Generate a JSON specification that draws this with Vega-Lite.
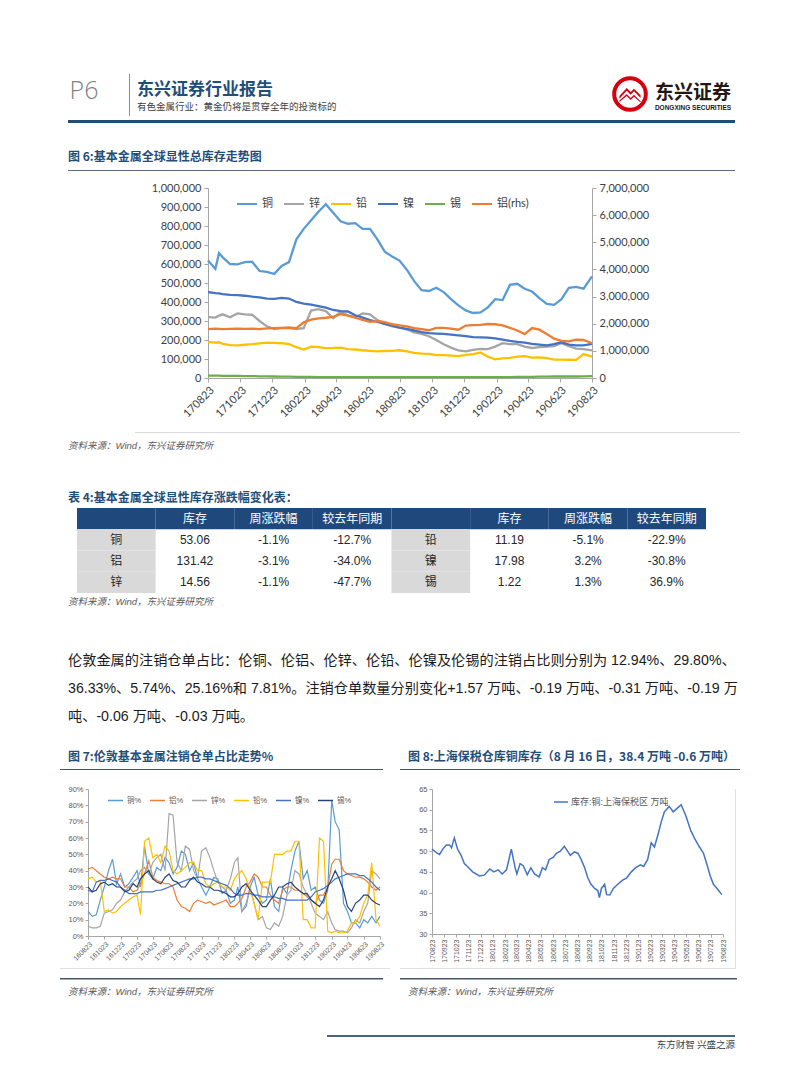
{
"$schema": "https://vega.github.io/schema/vega-lite/v6.json",
"padding": 0,
"background": "#FFFFFF",
"spacing": 0,
"bounds": "full",
"resolve": {"scale": {"x": "independent", "y": "independent", "color": "independent", "fill": "independent"}, "axis": {"x": "independent", "y": "independent"}, "legend": {"color": "independent", "fill": "independent"}},
"config": {"view": {"stroke": null}, "font": "Liberation Sans", "axis": {"grid": false}},
"vconcat": [
{"width": 1, "height": 70, "data": {"values": []}, "mark": "point", "encoding": {}},
{"spacing": 0, "bounds": "flush", "hconcat": [
  {"width": 68, "height": 42, "data": {"values": []}, "mark": "point", "encoding": {}},
  {"width": 32, "height": 34, "data": {"values": [{"t": "P6"}]}, "mark": {"type": "text", "fontSize": 25, "font": "Open Sans", "fontWeight": 300, "color": "#7F7F7F"}, "encoding": {"text": {"field": "t"}}},
  {"width": 29, "height": 1, "data": {"values": []}, "mark": "point", "encoding": {}},
  {"width": 1, "height": 42, "view": {"fill": "#8C8C8C", "stroke": null}, "data": {"values": []}, "mark": "point", "encoding": {}},
  {"width": 7, "height": 1, "data": {"values": []}, "mark": "point", "encoding": {}},
  {"width": 230, "height": 6, "data": {"values": []}, "mark": "point", "encoding": {},
   "title": {"text": "东兴证券行业报告", "subtitle": "有色金属行业：黄金仍将是贯穿全年的投资标的", "orient": "bottom", "anchor": "start", "frame": "group", "offset": 2, "baseline": "top", "font": "Noto Sans CJK SC", "fontSize": 17, "fontWeight": "bold", "color": "#1F4E79", "subtitleFont": "Noto Sans CJK SC", "subtitleFontSize": 9.5, "subtitleColor": "#404040", "subtitlePadding": 3}},
  {"width": 244, "height": 1, "data": {"values": []}, "mark": "point", "encoding": {}},
  {"width": 38, "height": 40, "data": {"values": [{"p": "logo"}]}, "layer": [
    {"mark": {"type": "point", "shape": "circle", "size": 1000, "filled": false, "stroke": "#D7000F", "strokeWidth": 4, "opacity": 1}, "encoding": {}},
    {"mark": {"type": "point", "shape": "M-0.8,0.15L-0.25,-0.45L0.05,-0.15L0.3,-0.4L0.8,0.1L0.8,0.3L0.3,-0.2L0.05,0.05L-0.25,-0.25L-0.8,0.35Z M-0.8,0.5L-0.25,0L0.05,0.3L0.3,0.05L0.8,0.55L0.8,0.65L0.3,0.2L0.05,0.45L-0.25,0.15L-0.8,0.6Z", "size": 700, "filled": true, "fill": "#D7000F", "strokeWidth": 0, "opacity": 1}, "encoding": {}}
  ]},
  {"width": 5, "height": 1, "data": {"values": []}, "mark": "point", "encoding": {}},
  {"width": 78, "height": 8, "data": {"values": []}, "mark": "point", "encoding": {},
   "title": {"text": "东兴证券", "subtitle": "DONGXING SECURITIES", "orient": "bottom", "anchor": "middle", "frame": "group", "offset": 2, "baseline": "top", "font": "Noto Sans CJK SC", "fontSize": 19, "fontWeight": "bold", "color": "#231815", "subtitleFont": "Liberation Sans", "subtitleFontSize": 6.5, "subtitleFontWeight": "bold", "subtitleColor": "#231815", "subtitlePadding": 2}}
]},
{"width": 1, "height": 2, "data": {"values": []}, "mark": "point", "encoding": {}},
{"spacing": 0, "bounds": "flush", "hconcat": [
  {"width": 68, "height": 3, "data": {"values": []}, "mark": "point", "encoding": {}},
  {"width": 667, "height": 3, "view": {"fill": "#1F4E79", "stroke": null}, "data": {"values": []}, "mark": "point", "encoding": {}}
]},
{"spacing": 0, "bounds": "flush", "hconcat": [
  {"width": 68, "height": 47, "data": {"values": []}, "mark": "point", "encoding": {}},
  {"width": 400, "height": 29, "data": {"values": []}, "mark": "point", "encoding": {},
   "title": {"text": "图 6:基本金属全球显性总库存走势图", "orient": "bottom", "anchor": "start", "frame": "group", "offset": 0, "baseline": "top", "font": "Noto Sans CJK SC", "fontSize": 12, "fontWeight": "bold", "color": "#1F4E79"}}
]},
{"spacing": 0, "bounds": "flush", "hconcat": [
  {"width": 68, "height": 1, "data": {"values": []}, "mark": "point", "encoding": {}},
  {"width": 667, "height": 1, "view": {"fill": "#5B6E84", "stroke": null}, "data": {"values": []}, "mark": "point", "encoding": {}}
]},
{"width": 1, "height": 11, "data": {"values": []}, "mark": "point", "encoding": {}},
{"spacing": 0, "bounds": "flush", "resolve": {"scale": {"x": "independent", "y": "independent", "color": "independent"}},
 "hconcat": [
  {"width": 208, "height": 244, "data": {"values": []}, "mark": "point", "encoding": {}},
  {"width": 384, "height": 190,
   "data": {"values": [
{"d":"2017-08-23","铜":619000,"锌":320000,"铅":190000,"镍":452000,"锡":12000,"铝(rhs)":1800000},
{"d":"2017-09-06","铜":575000,"锌":318000,"铅":186000,"镍":447000,"锡":12000,"铝(rhs)":1820000},
{"d":"2017-09-13","铜":658000,"锌":328000,"铅":188000,"镍":445000,"锡":12000,"铝(rhs)":1810000},
{"d":"2017-09-20","铜":635000,"锌":335000,"铅":180000,"镍":442000,"锡":11000,"铝(rhs)":1800000},
{"d":"2017-10-04","铜":600000,"锌":320000,"铅":173000,"镍":437000,"锡":11000,"铝(rhs)":1810000},
{"d":"2017-10-18","铜":598000,"锌":340000,"铅":172000,"镍":436000,"锡":11000,"铝(rhs)":1820000},
{"d":"2017-11-01","铜":610000,"锌":335000,"铅":175000,"镍":433000,"锡":10000,"铝(rhs)":1810000},
{"d":"2017-11-15","铜":612000,"锌":333000,"铅":178000,"镍":428000,"锡":10000,"铝(rhs)":1820000},
{"d":"2017-11-29","铜":563000,"锌":300000,"铅":182000,"镍":424000,"锡":9000,"铝(rhs)":1800000},
{"d":"2017-12-13","铜":558000,"锌":272000,"铅":186000,"镍":418000,"锡":9000,"铝(rhs)":1830000},
{"d":"2017-12-27","铜":548000,"锌":258000,"铅":185000,"镍":416000,"锡":8000,"铝(rhs)":1840000},
{"d":"2018-01-10","铜":590000,"锌":262000,"铅":183000,"镍":422000,"锡":7000,"铝(rhs)":1850000},
{"d":"2018-01-24","铜":610000,"锌":262000,"铅":178000,"镍":418000,"锡":7000,"铝(rhs)":1860000},
{"d":"2018-02-07","铜":730000,"锌":258000,"铅":162000,"镍":400000,"锡":6000,"铝(rhs)":1840000},
{"d":"2018-02-21","铜":785000,"锌":262000,"铅":150000,"镍":392000,"锡":6000,"铝(rhs)":2050000},
{"d":"2018-03-07","铜":830000,"锌":355000,"铅":165000,"镍":386000,"锡":6000,"铝(rhs)":2150000},
{"d":"2018-03-21","铜":875000,"锌":362000,"铅":163000,"镍":378000,"锡":5000,"铝(rhs)":2200000},
{"d":"2018-04-04","铜":915000,"锌":352000,"铅":157000,"镍":370000,"锡":5000,"铝(rhs)":2220000},
{"d":"2018-04-18","铜":870000,"锌":315000,"铅":158000,"镍":358000,"锡":5000,"铝(rhs)":2250000},
{"d":"2018-05-02","铜":825000,"锌":348000,"铅":160000,"镍":352000,"锡":5000,"铝(rhs)":2350000},
{"d":"2018-05-16","铜":812000,"锌":330000,"铅":152000,"镍":350000,"锡":5000,"铝(rhs)":2300000},
{"d":"2018-05-30","铜":815000,"锌":320000,"铅":150000,"镍":330000,"锡":5000,"铝(rhs)":2220000},
{"d":"2018-06-13","铜":785000,"锌":340000,"铅":146000,"镍":318000,"锡":5000,"铝(rhs)":2140000},
{"d":"2018-06-27","铜":785000,"锌":335000,"铅":143000,"镍":305000,"锡":5000,"铝(rhs)":2070000},
{"d":"2018-07-11","铜":730000,"锌":305000,"铅":140000,"镍":295000,"锡":5000,"铝(rhs)":2100000},
{"d":"2018-07-25","铜":665000,"锌":285000,"铅":142000,"镍":285000,"锡":5000,"铝(rhs)":2060000},
{"d":"2018-08-08","铜":640000,"锌":272000,"铅":143000,"镍":275000,"锡":5000,"铝(rhs)":1980000},
{"d":"2018-08-22","铜":618000,"锌":265000,"铅":146000,"镍":265000,"锡":5000,"铝(rhs)":1940000},
{"d":"2018-09-05","铜":570000,"锌":255000,"铅":140000,"镍":258000,"锡":5000,"铝(rhs)":1900000},
{"d":"2018-09-19","铜":510000,"锌":240000,"铅":132000,"镍":250000,"锡":5000,"铝(rhs)":1840000},
{"d":"2018-10-03","铜":462000,"锌":232000,"铅":128000,"镍":242000,"锡":5000,"铝(rhs)":1800000},
{"d":"2018-10-17","铜":458000,"锌":220000,"铅":127000,"镍":236000,"锡":5000,"铝(rhs)":1760000},
{"d":"2018-10-31","铜":475000,"锌":200000,"铅":120000,"镍":234000,"锡":5000,"铝(rhs)":1850000},
{"d":"2018-11-14","铜":452000,"锌":178000,"铅":120000,"镍":232000,"锡":5000,"铝(rhs)":1850000},
{"d":"2018-11-28","铜":415000,"锌":160000,"铅":118000,"镍":228000,"锡":5000,"铝(rhs)":1820000},
{"d":"2018-12-12","铜":382000,"锌":145000,"铅":115000,"镍":224000,"锡":5000,"铝(rhs)":1780000},
{"d":"2018-12-26","铜":356000,"锌":140000,"铅":122000,"镍":220000,"锡":5000,"铝(rhs)":1930000},
{"d":"2019-01-09","铜":342000,"锌":148000,"铅":126000,"镍":215000,"锡":5000,"铝(rhs)":1950000},
{"d":"2019-01-23","铜":345000,"锌":153000,"铅":134000,"镍":214000,"锡":5000,"铝(rhs)":1960000},
{"d":"2019-02-06","铜":372000,"锌":152000,"铅":112000,"镍":212000,"锡":5000,"铝(rhs)":1990000},
{"d":"2019-02-20","铜":415000,"锌":165000,"铅":98000,"镍":208000,"锡":5000,"铝(rhs)":1980000},
{"d":"2019-03-06","铜":410000,"锌":183000,"铅":103000,"镍":202000,"锡":5000,"铝(rhs)":1940000},
{"d":"2019-03-20","铜":490000,"锌":178000,"铅":106000,"镍":195000,"锡":5000,"铝(rhs)":1850000},
{"d":"2019-04-03","铜":496000,"锌":178000,"铅":113000,"镍":190000,"锡":6000,"铝(rhs)":1750000},
{"d":"2019-04-17","铜":470000,"锌":165000,"铅":115000,"镍":186000,"锡":6000,"铝(rhs)":1620000},
{"d":"2019-05-01","铜":455000,"锌":158000,"铅":107000,"镍":180000,"锡":6000,"铝(rhs)":1840000},
{"d":"2019-05-15","铜":420000,"锌":162000,"铅":108000,"镍":176000,"锡":7000,"铝(rhs)":1780000},
{"d":"2019-05-29","铜":390000,"锌":165000,"铅":105000,"镍":172000,"锡":7000,"铝(rhs)":1620000},
{"d":"2019-06-12","铜":385000,"锌":168000,"铅":97000,"镍":178000,"锡":8000,"铝(rhs)":1450000},
{"d":"2019-06-26","铜":415000,"锌":183000,"铅":97000,"镍":188000,"锡":8000,"铝(rhs)":1370000},
{"d":"2019-07-10","铜":475000,"锌":168000,"铅":96000,"镍":176000,"锡":8000,"铝(rhs)":1350000},
{"d":"2019-07-24","铜":480000,"锌":155000,"铅":95000,"镍":172000,"锡":8000,"铝(rhs)":1410000},
{"d":"2019-08-07","铜":470000,"锌":152000,"铅":126000,"镍":172000,"锡":9000,"铝(rhs)":1400000},
{"d":"2019-08-23","铜":535000,"锌":145000,"铅":113000,"镍":180000,"锡":10000,"铝(rhs)":1280000}
   ]},
   "encoding": {"x": {"field": "d", "type": "temporal",
      "scale": {"type": "utc", "domain": [{"year": 2017, "month": 8, "date": 23, "utc": true}, {"year": 2019, "month": 8, "date": 23, "utc": true}]},
      "axis": {"title": null, "labelExpr": "utcFormat(datum.value, '%y%m%d')", "labelAngle": -45, "labelAlign": "right", "labelBaseline": "top", "labelOverlap": false, "labelFlush": false, "labelBound": false, "labelFontSize": 11, "labelFont": "Lato", "labelColor": "#404040", "labelPadding": 2, "tickSize": 4, "tickColor": "#A6A6A6", "domainColor": "#A6A6A6",
        "values": [{"year": 2017, "month": 8, "date": 23, "utc": true}, {"year": 2017, "month": 10, "date": 23, "utc": true}, {"year": 2017, "month": 12, "date": 23, "utc": true}, {"year": 2018, "month": 2, "date": 23, "utc": true}, {"year": 2018, "month": 4, "date": 23, "utc": true}, {"year": 2018, "month": 6, "date": 23, "utc": true}, {"year": 2018, "month": 8, "date": 23, "utc": true}, {"year": 2018, "month": 10, "date": 23, "utc": true}, {"year": 2018, "month": 12, "date": 23, "utc": true}, {"year": 2019, "month": 2, "date": 23, "utc": true}, {"year": 2019, "month": 4, "date": 23, "utc": true}, {"year": 2019, "month": 6, "date": 23, "utc": true}, {"year": 2019, "month": 8, "date": 23, "utc": true}]}}},
   "layer": [
     {"transform": [{"fold": ["铜", "锌", "铅", "镍", "锡"], "as": ["s", "v"]}],
      "mark": {"type": "line", "strokeWidth": 2.3},
      "encoding": {
        "y": {"field": "v", "type": "quantitative", "scale": {"domain": [0, 1000000], "nice": false}, "axis": {"title": null, "values": [0,100000,200000,300000,400000,500000,600000,700000,800000,900000,1000000], "labelExpr": "format(datum.value, ',')", "labelFontSize": 11, "labelFont": "Lato", "labelColor": "#404040", "tickSize": 4, "tickColor": "#A6A6A6", "domainColor": "#A6A6A6", "labelPadding": 3}},
        "color": {"field": "s", "type": "nominal", "scale": {"domain": ["铜", "锌", "铅", "镍", "锡", "铝(rhs)"], "range": ["#5B9BD5", "#A5A5A5", "#FFC000", "#4472C4", "#70AD47", "#ED7D31"]},
          "legend": {"orient": "none", "legendX": 28, "legendY": 5, "direction": "horizontal", "title": null, "symbolType": "stroke", "symbolSize": 400, "symbolStrokeWidth": 2, "labelFontSize": 11, "labelFont": "'Lato','Noto Sans CJK SC'", "labelColor": "#404040", "columnPadding": 7, "labelOffset": 4}}}},
     {"transform": [{"fold": ["铝(rhs)"], "as": ["s", "v"]}],
      "mark": {"type": "line", "strokeWidth": 2.3},
      "encoding": {
        "y": {"field": "v", "type": "quantitative", "scale": {"domain": [0, 7000000], "nice": false}, "axis": {"orient": "right", "title": null, "values": [0,1000000,2000000,3000000,4000000,5000000,6000000,7000000], "labelExpr": "format(datum.value, ',')", "labelFontSize": 11, "labelFont": "Lato", "labelColor": "#404040", "tickSize": 4, "tickColor": "#A6A6A6", "domainColor": "#A6A6A6", "labelPadding": 3}},
        "color": {"field": "s", "type": "nominal", "scale": {"domain": ["铜", "锌", "铅", "镍", "锡", "铝(rhs)"], "range": ["#5B9BD5", "#A5A5A5", "#FFC000", "#4472C4", "#70AD47", "#ED7D31"]},
          "legend": {"orient": "none", "legendX": 28, "legendY": 5, "direction": "horizontal", "title": null, "symbolType": "stroke", "symbolSize": 400, "symbolStrokeWidth": 2, "labelFontSize": 11, "labelFont": "'Lato','Noto Sans CJK SC'", "labelColor": "#404040", "columnPadding": 7, "labelOffset": 4}}}}
   ],
   "resolve": {"scale": {"y": "independent"}}}
]},
{"spacing": 0, "bounds": "flush", "hconcat": [
  {"width": 135, "height": 1, "data": {"values": []}, "mark": "point", "encoding": {}},
  {"width": 605, "height": 1, "view": {"fill": "#D9D9D9", "stroke": null}, "data": {"values": []}, "mark": "point", "encoding": {}}
]},
{"spacing": 0, "bounds": "flush", "hconcat": [
  {"width": 68, "height": 57, "data": {"values": []}, "mark": "point", "encoding": {}},
  {"width": 300, "height": 8, "data": {"values": []}, "mark": "point", "encoding": {},
   "title": {"text": "资料来源：Wind，东兴证券研究所", "orient": "bottom", "anchor": "start", "frame": "group", "offset": 0, "baseline": "top", "font": "'Liberation Sans','Noto Sans CJK SC'", "fontSize": 9.5, "fontStyle": "italic", "fontWeight": "normal", "color": "#595959"}}
]},
{"spacing": 0, "bounds": "flush", "hconcat": [
  {"width": 68, "height": 18, "data": {"values": []}, "mark": "point", "encoding": {}},
  {"width": 400, "height": 3, "data": {"values": []}, "mark": "point", "encoding": {},
   "title": {"text": "表 4:基本金属全球显性库存涨跌幅变化表：", "orient": "bottom", "anchor": "start", "frame": "group", "offset": 0, "baseline": "top", "font": "Noto Sans CJK SC", "fontSize": 12, "fontWeight": "bold", "color": "#1F4E79"}}
]},
{"spacing": 0, "bounds": "flush", "hconcat": [
  {"width": 77, "height": 85, "data": {"values": []}, "mark": "point", "encoding": {}},
  {"width": 629, "height": 85,
   "data": {"values": [
{"r":"h","c":"c1","t":"","k":"head"},{"r":"h","c":"c2","t":"库存","k":"head"},{"r":"h","c":"c3","t":"周涨跌幅","k":"head"},{"r":"h","c":"c4","t":"较去年同期","k":"head"},
{"r":"h","c":"c5","t":"","k":"head"},{"r":"h","c":"c6","t":"库存","k":"head"},{"r":"h","c":"c7","t":"周涨跌幅","k":"head"},{"r":"h","c":"c8","t":"较去年同期","k":"head"},
{"r":"r1","c":"c1","t":"铜","k":"label"},{"r":"r1","c":"c2","t":"53.06","k":"val"},{"r":"r1","c":"c3","t":"-1.1%","k":"val"},{"r":"r1","c":"c4","t":"-12.7%","k":"val"},
{"r":"r1","c":"c5","t":"铅","k":"label"},{"r":"r1","c":"c6","t":"11.19","k":"val"},{"r":"r1","c":"c7","t":"-5.1%","k":"val"},{"r":"r1","c":"c8","t":"-22.9%","k":"val"},
{"r":"r2","c":"c1","t":"铝","k":"label"},{"r":"r2","c":"c2","t":"131.42","k":"val"},{"r":"r2","c":"c3","t":"-3.1%","k":"val"},{"r":"r2","c":"c4","t":"-34.0%","k":"val"},
{"r":"r2","c":"c5","t":"镍","k":"label"},{"r":"r2","c":"c6","t":"17.98","k":"val"},{"r":"r2","c":"c7","t":"3.2%","k":"val"},{"r":"r2","c":"c8","t":"-30.8%","k":"val"},
{"r":"r3","c":"c1","t":"锌","k":"label"},{"r":"r3","c":"c2","t":"14.56","k":"val"},{"r":"r3","c":"c3","t":"-1.1%","k":"val"},{"r":"r3","c":"c4","t":"-47.7%","k":"val"},
{"r":"r3","c":"c5","t":"锡","k":"label"},{"r":"r3","c":"c6","t":"1.22","k":"val"},{"r":"r3","c":"c7","t":"1.3%","k":"val"},{"r":"r3","c":"c8","t":"36.9%","k":"val"}
   ]},
   "encoding": {
     "x": {"field": "c", "type": "nominal", "scale": {"domain": ["c1","c2","c3","c4","c5","c6","c7","c8"], "paddingInner": 0, "paddingOuter": 0}, "axis": null},
     "y": {"field": "r", "type": "nominal", "scale": {"domain": ["h","r1","r2","r3"], "paddingInner": 0, "paddingOuter": 0}, "axis": null}},
   "layer": [
     {"transform": [{"filter": "datum.k != 'val'"}], "mark": {"type": "rect"},
      "encoding": {"fill": {"field": "k", "type": "nominal", "scale": {"domain": ["head", "label"], "range": ["#1F497D", "#D9D9D9"]}, "legend": null}}},
     {"mark": {"type": "text", "fontSize": 12, "font": "'Liberation Sans','Noto Sans CJK SC'"},
      "encoding": {"text": {"field": "t"}, "color": {"field": "k", "type": "nominal", "scale": {"domain": ["head", "label", "val"], "range": ["#FFFFFF", "#262626", "#262626"]}, "legend": null}}}
   ],
   "resolve": {"scale": {"fill": "independent", "color": "independent"}}}
]},
{"spacing": 0, "bounds": "flush", "hconcat": [
  {"width": 68, "height": 60, "data": {"values": []}, "mark": "point", "encoding": {}},
  {"width": 300, "height": 4, "data": {"values": []}, "mark": "point", "encoding": {},
   "title": {"text": "资料来源：Wind，东兴证券研究所", "orient": "bottom", "anchor": "start", "frame": "group", "offset": 0, "baseline": "top", "font": "'Liberation Sans','Noto Sans CJK SC'", "fontSize": 9.5, "fontStyle": "italic", "fontWeight": "normal", "color": "#595959"}}
]},
{"spacing": 0, "bounds": "flush", "hconcat": [
  {"width": 68, "height": 98, "data": {"values": []}, "mark": "point", "encoding": {}},
  {"width": 665, "height": 1, "data": {"values": []}, "mark": "point", "encoding": {},
   "title": {"text": ["伦敦金属的注销仓单占比：伦铜、伦铝、伦锌、伦铅、伦镍及伦锡的注销占比则分别为 12.94%、29.80%、", "36.33%、5.74%、25.16%和 7.81%。注销仓单数量分别变化+1.57 万吨、-0.19 万吨、-0.31 万吨、-0.19 万", "吨、-0.06 万吨、-0.03 万吨。"], "orient": "bottom", "anchor": "start", "frame": "group", "offset": 0, "baseline": "top", "lineHeight": 28, "font": "'Liberation Sans','Noto Sans CJK SC'", "fontSize": 14.2, "fontWeight": "normal", "color": "#1A1A1A"}}
]},
{"spacing": 0, "bounds": "flush", "hconcat": [
  {"width": 60, "height": 18, "data": {"values": []}, "mark": "point", "encoding": {}},
  {"width": 323, "height": 1, "data": {"values": []}, "mark": "point", "encoding": {},
   "title": {"text": "图 7:伦敦基本金属注销仓单占比走势%", "orient": "bottom", "anchor": "start", "frame": "group", "offset": 0, "dx": 8, "baseline": "top", "font": "Noto Sans CJK SC", "fontSize": 12, "fontWeight": "bold", "color": "#1F4E79"}},
  {"width": 17, "height": 1, "data": {"values": []}, "mark": "point", "encoding": {}},
  {"width": 340, "height": 1, "data": {"values": []}, "mark": "point", "encoding": {},
   "title": {"text": "图 8:上海保税仓库铜库存（8 月 16 日，38.4 万吨 -0.6 万吨）", "orient": "bottom", "anchor": "start", "frame": "group", "offset": 0, "dx": 8, "baseline": "top", "font": "Noto Sans CJK SC", "fontSize": 12, "fontWeight": "bold", "color": "#1F4E79"}}
]},
{"spacing": 0, "bounds": "flush", "hconcat": [
  {"width": 60, "height": 1, "data": {"values": []}, "mark": "point", "encoding": {}},
  {"width": 323, "height": 1, "view": {"fill": "#44546A", "stroke": null}, "data": {"values": []}, "mark": "point", "encoding": {}},
  {"width": 17, "height": 1, "data": {"values": []}, "mark": "point", "encoding": {}},
  {"width": 340, "height": 1, "view": {"fill": "#44546A", "stroke": null}, "data": {"values": []}, "mark": "point", "encoding": {}}
]},
{"width": 1, "height": 15, "data": {"values": []}, "mark": "point", "encoding": {}},
{"spacing": 0, "bounds": "flush", "resolve": {"scale": {"x": "independent", "y": "independent", "color": "independent"}, "legend": {"color": "independent"}},
 "hconcat": [
  {"width": 88, "height": 179, "data": {"values": []}, "mark": "point", "encoding": {}},
  {"width": 292, "height": 147,
   "data": {"values": [
{"d":"2016-08-23","铜%":15,"铝%":41,"锌%":6,"铅%":35,"镍%":28,"锡%":30},
{"d":"2016-09-08","铜%":12,"铝%":42,"锌%":5,"铅%":36,"镍%":27,"锡%":27},
{"d":"2016-09-23","铜%":13,"铝%":40,"锌%":5,"铅%":33,"镍%":33,"锡%":28},
{"d":"2016-10-08","铜%":22,"铝%":38,"锌%":6,"铅%":34,"镍%":34,"锡%":32},
{"d":"2016-10-23","铜%":30,"铝%":36,"锌%":14,"铅%":15,"镍%":34,"锡%":33},
{"d":"2016-11-08","铜%":40,"铝%":35,"锌%":15,"铅%":16,"镍%":35,"锡%":31},
{"d":"2016-11-23","铜%":47,"铝%":36,"锌%":16,"铅%":14,"镍%":34,"锡%":32},
{"d":"2016-12-08","铜%":32,"铝%":35,"锌%":20,"铅%":15,"镍%":33,"锡%":30},
{"d":"2016-12-23","铜%":38,"铝%":35,"锌%":22,"铅%":18,"镍%":30,"锡%":30},
{"d":"2017-01-08","铜%":30,"铝%":30,"锌%":27,"铅%":20,"镍%":28,"锡%":27},
{"d":"2017-01-23","铜%":32,"铝%":30,"锌%":30,"铅%":22,"镍%":26,"锡%":28},
{"d":"2017-02-08","铜%":36,"铝%":27,"锌%":33,"铅%":24,"镍%":26,"锡%":32},
{"d":"2017-02-23","铜%":40,"铝%":28,"锌%":35,"铅%":25,"镍%":26,"锡%":30},
{"d":"2017-03-08","铜%":30,"铝%":32,"锌%":40,"铅%":13,"镍%":27,"锡%":35},
{"d":"2017-03-23","铜%":55,"铝%":38,"锌%":42,"铅%":58,"镍%":27,"锡%":38},
{"d":"2017-04-08","铜%":38,"铝%":46,"锌%":38,"铅%":60,"镍%":27,"锡%":40},
{"d":"2017-04-23","铜%":35,"铝%":36,"锌%":45,"铅%":48,"镍%":27,"锡%":35},
{"d":"2017-05-08","铜%":42,"铝%":34,"锌%":48,"铅%":50,"镍%":28,"锡%":33},
{"d":"2017-05-23","铜%":40,"铝%":33,"锌%":50,"铅%":45,"镍%":28,"锡%":32},
{"d":"2017-06-08","铜%":48,"铝%":32,"锌%":40,"铅%":55,"镍%":29,"锡%":36},
{"d":"2017-06-23","铜%":45,"铝%":32,"锌%":75,"铅%":52,"镍%":30,"锡%":38},
{"d":"2017-07-08","铜%":38,"铝%":30,"锌%":74,"铅%":40,"镍%":31,"锡%":34},
{"d":"2017-07-23","铜%":42,"铝%":22,"锌%":45,"铅%":38,"镍%":32,"锡%":33},
{"d":"2017-08-08","铜%":52,"铝%":18,"锌%":40,"铅%":40,"镍%":33,"锡%":30},
{"d":"2017-08-23","铜%":50,"铝%":17,"锌%":55,"铅%":42,"镍%":34,"锡%":30},
{"d":"2017-09-08","铜%":40,"铝%":15,"锌%":53,"铅%":45,"镍%":35,"锡%":34},
{"d":"2017-09-23","铜%":45,"铝%":20,"锌%":40,"铅%":45,"镍%":35,"锡%":36},
{"d":"2017-10-08","铜%":35,"铝%":22,"锌%":35,"铅%":40,"镍%":36,"锡%":33},
{"d":"2017-10-23","铜%":30,"铝%":21,"锌%":52,"铅%":40,"镍%":36,"锡%":32},
{"d":"2017-11-08","铜%":25,"铝%":20,"锌%":54,"铅%":32,"镍%":35,"锡%":30},
{"d":"2017-11-23","铜%":30,"铝%":21,"锌%":48,"铅%":30,"镍%":35,"锡%":30},
{"d":"2017-12-08","铜%":36,"铝%":19,"锌%":40,"铅%":32,"镍%":34,"锡%":28},
{"d":"2017-12-23","铜%":35,"铝%":20,"锌%":33,"铅%":33,"镍%":33,"锡%":28},
{"d":"2018-01-08","铜%":26,"铝%":21,"锌%":30,"铅%":30,"镍%":32,"锡%":27},
{"d":"2018-01-23","铜%":28,"铝%":22,"锌%":28,"铅%":30,"镍%":31,"锡%":26},
{"d":"2018-02-08","铜%":20,"铝%":18,"锌%":35,"铅%":28,"镍%":29,"锡%":24},
{"d":"2018-02-23","铜%":22,"铝%":18,"锌%":45,"铅%":35,"镍%":26,"锡%":24},
{"d":"2018-03-08","铜%":30,"铝%":20,"锌%":48,"铅%":38,"镍%":25,"锡%":26},
{"d":"2018-03-23","铜%":15,"铝%":23,"锌%":15,"铅%":40,"镍%":25,"锡%":30},
{"d":"2018-04-08","铜%":18,"铝%":30,"锌%":20,"铅%":35,"镍%":26,"锡%":32},
{"d":"2018-04-23","铜%":30,"铝%":33,"锌%":30,"铅%":28,"镍%":26,"锡%":28},
{"d":"2018-05-08","铜%":36,"铝%":38,"锌%":20,"铅%":20,"镍%":25,"锡%":25},
{"d":"2018-05-23","铜%":25,"铝%":36,"锌%":10,"铅%":10,"镍%":25,"锡%":22},
{"d":"2018-06-08","铜%":20,"铝%":30,"锌%":12,"铅%":33,"镍%":24,"锡%":18},
{"d":"2018-06-23","铜%":22,"铝%":30,"锌%":5,"铅%":33,"镍%":24,"锡%":18},
{"d":"2018-07-08","铜%":35,"铝%":25,"锌%":4,"铅%":33,"镍%":24,"锡%":22},
{"d":"2018-07-23","铜%":18,"铝%":22,"锌%":8,"铅%":50,"镍%":24,"锡%":25},
{"d":"2018-08-08","铜%":15,"铝%":20,"锌%":6,"铅%":50,"镍%":23,"锡%":30},
{"d":"2018-08-23","铜%":30,"铝%":28,"锌%":12,"铅%":50,"镍%":23,"锡%":30},
{"d":"2018-09-08","铜%":26,"铝%":30,"锌%":25,"铅%":52,"镍%":22,"锡%":32},
{"d":"2018-09-23","铜%":40,"铝%":30,"锌%":28,"铅%":52,"镍%":22,"锡%":33},
{"d":"2018-10-08","铜%":52,"铝%":28,"锌%":40,"铅%":58,"镍%":22,"锡%":30},
{"d":"2018-10-23","铜%":58,"铝%":28,"锌%":38,"铅%":58,"镍%":22,"锡%":28},
{"d":"2018-11-08","铜%":35,"铝%":26,"锌%":30,"铅%":10,"镍%":22,"锡%":26},
{"d":"2018-11-23","铜%":40,"铝%":24,"锌%":25,"铅%":10,"镍%":22,"锡%":26},
{"d":"2018-12-08","铜%":28,"铝%":22,"锌%":20,"铅%":5,"镍%":24,"锡%":22},
{"d":"2018-12-23","铜%":30,"铝%":20,"锌%":14,"铅%":5,"镍%":27,"锡%":20},
{"d":"2019-01-08","铜%":22,"铝%":25,"锌%":12,"铅%":60,"镍%":28,"锡%":18},
{"d":"2019-01-23","铜%":20,"铝%":25,"锌%":10,"铅%":58,"镍%":29,"锡%":22},
{"d":"2019-02-08","铜%":28,"铝%":30,"锌%":15,"铅%":3,"镍%":31,"锡%":30},
{"d":"2019-02-23","铜%":83,"铝%":44,"锌%":8,"铅%":2,"镍%":33,"锡%":35},
{"d":"2019-03-08","铜%":70,"铝%":47,"锌%":4,"铅%":3,"镍%":35,"锡%":40},
{"d":"2019-03-23","铜%":65,"铝%":47,"锌%":3,"铅%":2,"镍%":36,"锡%":35},
{"d":"2019-04-08","铜%":20,"铝%":40,"锌%":3,"铅%":2,"镍%":37,"锡%":28},
{"d":"2019-04-23","铜%":15,"铝%":38,"锌%":2,"铅%":3,"镍%":38,"锡%":18},
{"d":"2019-05-08","铜%":8,"铝%":37,"锌%":5,"铅%":8,"镍%":38,"锡%":15},
{"d":"2019-05-23","铜%":8,"铝%":36,"锌%":10,"铅%":8,"镍%":38,"锡%":20},
{"d":"2019-06-08","铜%":5,"铝%":36,"锌%":8,"铅%":12,"镍%":37,"锡%":22},
{"d":"2019-06-23","铜%":10,"铝%":35,"锌%":15,"铅%":20,"镍%":37,"锡%":25},
{"d":"2019-07-08","铜%":8,"铝%":33,"锌%":20,"铅%":25,"镍%":35,"锡%":25},
{"d":"2019-07-23","铜%":12,"铝%":30,"锌%":40,"铅%":45,"镍%":33,"锡%":22},
{"d":"2019-08-08","铜%":8,"铝%":28,"锌%":38,"铅%":10,"镍%":30,"锡%":20},
{"d":"2019-08-23","铜%":12,"铝%":30,"锌%":35,"铅%":6,"镍%":28,"锡%":19}
   ]},
   "transform": [{"fold": ["铜%", "铝%", "锌%", "铅%", "镍%", "锡%"], "as": ["s", "v"]}],
   "mark": {"type": "line", "strokeWidth": 1.2},
   "encoding": {
     "x": {"field": "d", "type": "temporal",
       "scale": {"type": "utc", "domain": [{"year": 2016, "month": 8, "date": 23, "utc": true}, {"year": 2019, "month": 8, "date": 23, "utc": true}]},
       "axis": {"title": null, "labelExpr": "utcFormat(datum.value, '%y%m%d')", "labelAngle": -45, "labelAlign": "right", "labelBaseline": "top", "labelOverlap": false, "labelFlush": false, "labelBound": false, "labelFontSize": 7, "labelColor": "#595959", "labelPadding": 1, "tickSize": 3, "tickColor": "#A6A6A6", "domainColor": "#A6A6A6",
         "values": [{"year": 2016, "month": 8, "date": 23, "utc": true}, {"year": 2016, "month": 10, "date": 23, "utc": true}, {"year": 2016, "month": 12, "date": 23, "utc": true}, {"year": 2017, "month": 2, "date": 23, "utc": true}, {"year": 2017, "month": 4, "date": 23, "utc": true}, {"year": 2017, "month": 6, "date": 23, "utc": true}, {"year": 2017, "month": 8, "date": 23, "utc": true}, {"year": 2017, "month": 10, "date": 23, "utc": true}, {"year": 2017, "month": 12, "date": 23, "utc": true}, {"year": 2018, "month": 2, "date": 23, "utc": true}, {"year": 2018, "month": 4, "date": 23, "utc": true}, {"year": 2018, "month": 6, "date": 23, "utc": true}, {"year": 2018, "month": 8, "date": 23, "utc": true}, {"year": 2018, "month": 10, "date": 23, "utc": true}, {"year": 2018, "month": 12, "date": 23, "utc": true}, {"year": 2019, "month": 2, "date": 23, "utc": true}, {"year": 2019, "month": 4, "date": 23, "utc": true}, {"year": 2019, "month": 6, "date": 23, "utc": true}, {"year": 2019, "month": 8, "date": 23, "utc": true}]}},
     "y": {"field": "v", "type": "quantitative", "scale": {"domain": [0, 90], "nice": false}, "axis": {"title": null, "values": [0,10,20,30,40,50,60,70,80,90], "labelExpr": "datum.value + '%'", "labelFontSize": 7.5, "labelColor": "#595959", "tickSize": 3, "tickColor": "#A6A6A6", "domainColor": "#A6A6A6", "labelPadding": 2}},
     "color": {"field": "s", "type": "nominal", "scale": {"domain": ["铜%", "铝%", "锌%", "铅%", "镍%", "锡%"], "range": ["#5B9BD5", "#ED7D31", "#A5A5A5", "#FFC000", "#4472C4", "#264478"]},
       "legend": {"orient": "none", "legendX": 19, "legendY": 3, "direction": "horizontal", "title": null, "symbolType": "stroke", "symbolSize": 225, "symbolStrokeWidth": 1.5, "labelFontSize": 7.5, "labelFont": "'Liberation Sans','Noto Sans CJK SC'", "labelColor": "#595959", "columnPadding": 5, "labelOffset": 3}}}},
  {"width": 52, "height": 1, "data": {"values": []}, "mark": "point", "encoding": {}},
  {"width": 291, "height": 145,
   "data": {"values": [
{"d":"2017-08-23","v":50.5},{"d":"2017-09-05","v":49.5},{"d":"2017-09-11","v":49.2},{"d":"2017-09-19","v":50.5},{"d":"2017-09-28","v":51.5},
{"d":"2017-10-06","v":51.5},{"d":"2017-10-11","v":50.8},{"d":"2017-10-18","v":53.2},{"d":"2017-10-26","v":50.5},{"d":"2017-11-04","v":49},
{"d":"2017-11-12","v":47},{"d":"2017-11-20","v":46.3},{"d":"2017-12-03","v":45},{"d":"2017-12-20","v":44},{"d":"2018-01-01","v":44.2},
{"d":"2018-01-15","v":45.7},{"d":"2018-01-25","v":45},{"d":"2018-02-05","v":45.5},{"d":"2018-02-15","v":44.5},{"d":"2018-02-26","v":45.5},
{"d":"2018-03-10","v":50.5},{"d":"2018-03-20","v":45.8},{"d":"2018-03-24","v":44.5},{"d":"2018-04-01","v":47},{"d":"2018-04-09","v":46.5},
{"d":"2018-04-19","v":44.3},{"d":"2018-04-28","v":46},{"d":"2018-05-07","v":44.5},{"d":"2018-05-19","v":43.8},{"d":"2018-05-27","v":46},
{"d":"2018-06-04","v":45.5},{"d":"2018-06-13","v":48},{"d":"2018-06-23","v":48.5},{"d":"2018-07-01","v":49.5},{"d":"2018-07-11","v":50},
{"d":"2018-07-21","v":51.2},{"d":"2018-07-29","v":50},{"d":"2018-08-05","v":49},{"d":"2018-08-15","v":49.8},{"d":"2018-08-24","v":49.5},
{"d":"2018-09-01","v":48},{"d":"2018-09-10","v":46},{"d":"2018-09-18","v":43.5},{"d":"2018-09-26","v":42},{"d":"2018-10-05","v":41},
{"d":"2018-10-13","v":40.5},{"d":"2018-10-17","v":38.8},{"d":"2018-10-22","v":41},{"d":"2018-10-30","v":42},{"d":"2018-11-04","v":39.5},
{"d":"2018-11-12","v":39.4},{"d":"2018-11-21","v":41},{"d":"2018-12-02","v":42},{"d":"2018-12-14","v":43},{"d":"2018-12-24","v":43.5},
{"d":"2019-01-05","v":45},{"d":"2019-01-16","v":46},{"d":"2019-01-28","v":46.7},{"d":"2019-02-05","v":46.3},{"d":"2019-02-15","v":48},
{"d":"2019-02-24","v":52},{"d":"2019-03-04","v":51},{"d":"2019-03-13","v":54},{"d":"2019-03-21","v":57},{"d":"2019-03-29","v":59.5},
{"d":"2019-04-10","v":60.8},{"d":"2019-04-20","v":59.5},{"d":"2019-05-02","v":60.5},{"d":"2019-05-10","v":61.2},{"d":"2019-05-22","v":58.5},
{"d":"2019-06-03","v":55},{"d":"2019-06-13","v":53},{"d":"2019-06-25","v":51},{"d":"2019-07-05","v":49.5},{"d":"2019-07-13","v":47},
{"d":"2019-07-22","v":44},{"d":"2019-07-30","v":42},{"d":"2019-08-08","v":41},{"d":"2019-08-20","v":39.5}
   ]},
   "mark": {"type": "line", "strokeWidth": 1.5},
   "encoding": {
     "x": {"field": "d", "type": "temporal",
       "scale": {"type": "utc", "domain": [{"year": 2017, "month": 8, "date": 23, "utc": true}, {"year": 2019, "month": 8, "date": 23, "utc": true}]},
       "axis": {"title": null, "labelExpr": "utcFormat(datum.value, '%y%m%d')", "labelAngle": 270, "labelAlign": "right", "labelBaseline": "middle", "labelOverlap": false, "labelFlush": false, "labelBound": false, "labelFontSize": 7, "labelColor": "#595959", "labelPadding": 2, "tickSize": 3, "tickColor": "#A6A6A6", "domainColor": "#A6A6A6",
         "values": [{"year": 2017, "month": 8, "date": 23, "utc": true}, {"year": 2017, "month": 9, "date": 23, "utc": true}, {"year": 2017, "month": 10, "date": 23, "utc": true}, {"year": 2017, "month": 11, "date": 23, "utc": true}, {"year": 2017, "month": 12, "date": 23, "utc": true}, {"year": 2018, "month": 1, "date": 23, "utc": true}, {"year": 2018, "month": 2, "date": 23, "utc": true}, {"year": 2018, "month": 3, "date": 23, "utc": true}, {"year": 2018, "month": 4, "date": 23, "utc": true}, {"year": 2018, "month": 5, "date": 23, "utc": true}, {"year": 2018, "month": 6, "date": 23, "utc": true}, {"year": 2018, "month": 7, "date": 23, "utc": true}, {"year": 2018, "month": 8, "date": 23, "utc": true}, {"year": 2018, "month": 9, "date": 23, "utc": true}, {"year": 2018, "month": 10, "date": 23, "utc": true}, {"year": 2018, "month": 11, "date": 23, "utc": true}, {"year": 2018, "month": 12, "date": 23, "utc": true}, {"year": 2019, "month": 1, "date": 23, "utc": true}, {"year": 2019, "month": 2, "date": 23, "utc": true}, {"year": 2019, "month": 3, "date": 23, "utc": true}, {"year": 2019, "month": 4, "date": 23, "utc": true}, {"year": 2019, "month": 5, "date": 23, "utc": true}, {"year": 2019, "month": 6, "date": 23, "utc": true}, {"year": 2019, "month": 7, "date": 23, "utc": true}, {"year": 2019, "month": 8, "date": 23, "utc": true}]}},
     "y": {"field": "v", "type": "quantitative", "scale": {"domain": [30, 65], "nice": false, "zero": false}, "axis": {"title": null, "values": [30,35,40,45,50,55,60,65], "labelFontSize": 7.5, "labelColor": "#595959", "tickSize": 3, "tickColor": "#A6A6A6", "domainColor": "#A6A6A6", "labelPadding": 2}},
     "color": {"datum": "库存:铜:上海保税区 万吨", "type": "nominal", "scale": {"range": ["#4472C4"]},
       "legend": {"orient": "none", "legendX": 121, "legendY": 5, "title": null, "symbolType": "stroke", "symbolSize": 196, "symbolStrokeWidth": 1.5, "labelFontSize": 9, "labelFont": "'Liberation Sans','Noto Sans CJK SC'", "labelColor": "#595959", "labelOffset": 2}}}},
  {"width": 12, "height": 1, "data": {"values": []}, "mark": "point", "encoding": {}},
  {"width": 1, "height": 179, "view": {"fill": "#E0E0E0", "stroke": null}, "data": {"values": []}, "mark": "point", "encoding": {}}
]},
{"spacing": 0, "bounds": "flush", "hconcat": [
  {"width": 60, "height": 1, "data": {"values": []}, "mark": "point", "encoding": {}},
  {"width": 330, "height": 1, "view": {"fill": "#E0E0E0", "stroke": null}, "data": {"values": []}, "mark": "point", "encoding": {}},
  {"width": 10, "height": 1, "data": {"values": []}, "mark": "point", "encoding": {}},
  {"width": 336, "height": 1, "view": {"fill": "#E0E0E0", "stroke": null}, "data": {"values": []}, "mark": "point", "encoding": {}}
]},
{"width": 1, "height": 9, "data": {"values": []}, "mark": "point", "encoding": {}},
{"spacing": 0, "bounds": "flush", "hconcat": [
  {"width": 60, "height": 1.5, "data": {"values": []}, "mark": "point", "encoding": {}},
  {"width": 323, "height": 1.5, "view": {"fill": "#44546A", "stroke": null}, "data": {"values": []}, "mark": "point", "encoding": {}},
  {"width": 17, "height": 1, "data": {"values": []}, "mark": "point", "encoding": {}},
  {"width": 337, "height": 1.5, "view": {"fill": "#44546A", "stroke": null}, "data": {"values": []}, "mark": "point", "encoding": {}}
]},
{"spacing": 0, "bounds": "flush", "hconcat": [
  {"width": 68, "height": 54.5, "data": {"values": []}, "mark": "point", "encoding": {}},
  {"width": 340, "height": 6.5, "data": {"values": []}, "mark": "point", "encoding": {},
   "title": {"text": "资料来源：Wind，东兴证券研究所", "orient": "bottom", "anchor": "start", "frame": "group", "offset": 0, "baseline": "top", "font": "'Liberation Sans','Noto Sans CJK SC'", "fontSize": 9.5, "fontStyle": "italic", "fontWeight": "normal", "color": "#595959"}},
  {"width": 332, "height": 6.5, "data": {"values": []}, "mark": "point", "encoding": {},
   "title": {"text": "资料来源：Wind，东兴证券研究所", "orient": "bottom", "anchor": "start", "frame": "group", "offset": 0, "baseline": "top", "font": "'Liberation Sans','Noto Sans CJK SC'", "fontSize": 9.5, "fontStyle": "italic", "fontWeight": "normal", "color": "#595959"}}
]},
{"spacing": 0, "bounds": "flush", "hconcat": [
  {"width": 327, "height": 16, "data": {"values": []}, "mark": "point", "encoding": {}},
  {"width": 408, "height": 2, "view": {"fill": "#4A6582", "stroke": null}, "data": {"values": []}, "mark": "point", "encoding": {},
   "title": {"text": "东方财智 兴盛之源", "orient": "bottom", "anchor": "end", "frame": "group", "offset": 3, "baseline": "top", "font": "Noto Sans CJK SC", "fontSize": 9.5, "fontWeight": "normal", "color": "#404040"}}
]}
]
}
